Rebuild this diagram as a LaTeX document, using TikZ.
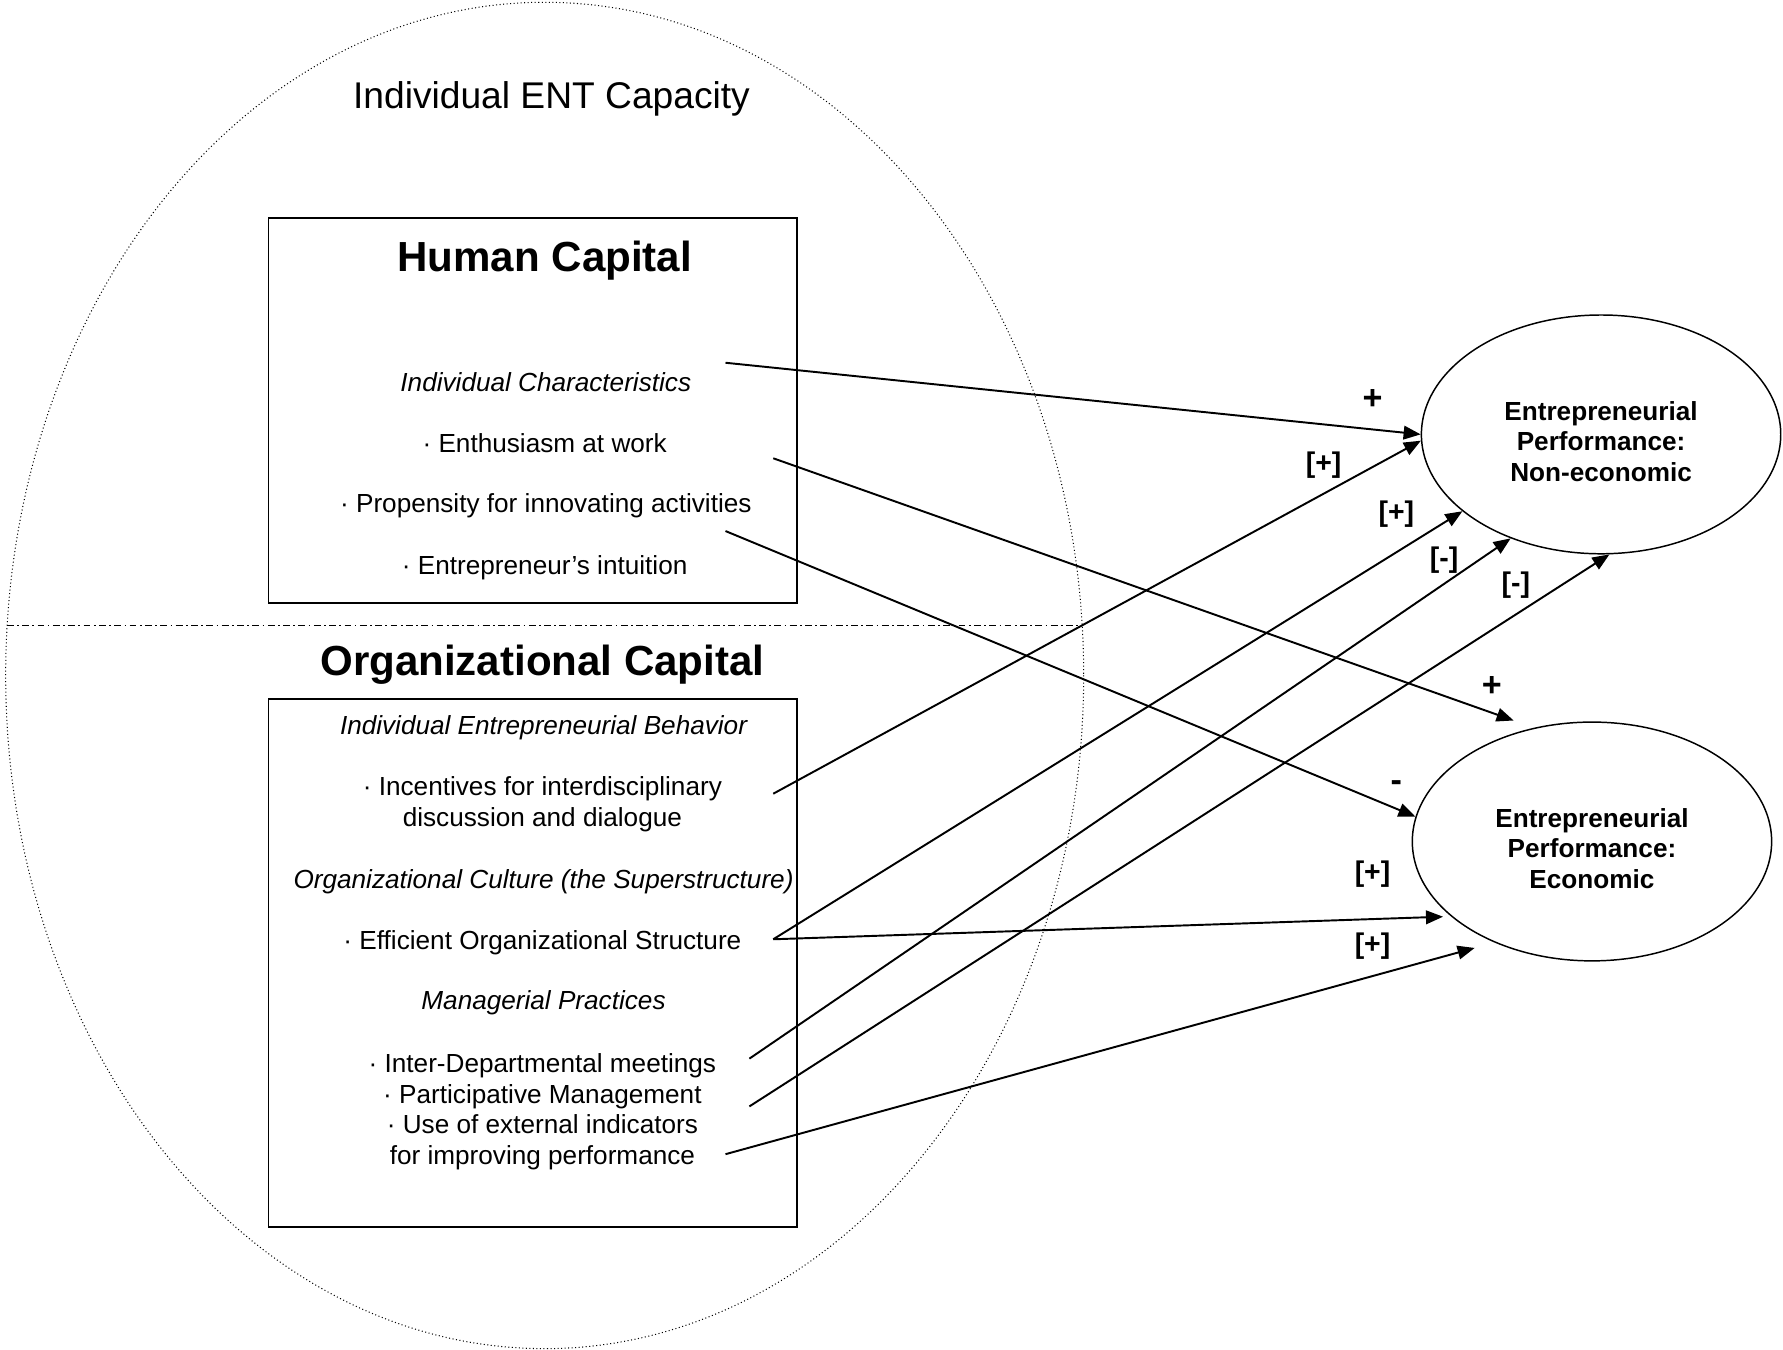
\documentclass[tikz,border=0pt]{standalone}
\usepackage{fontspec}
\setmainfont{Liberation Sans}
\usetikzlibrary{arrows.meta,shapes.geometric}

\tikzset{
  item/.style={font=\fontsize{23}{27}\selectfont, anchor=base, inner sep=0pt},
  head/.style={font=\fontsize{37}{40}\selectfont\bfseries, anchor=base, inner sep=0pt},
  perf/.style={draw, ellipse, line width=1.3pt, minimum width=316pt, minimum height=210pt,
    inner sep=0pt, align=center, font=\fontsize{23}{27}\selectfont\bfseries},
  link/.style={line width=1.7pt, -{Triangle[length=15pt,width=12pt]}},
  sign/.style={font=\fontsize{30}{30}\selectfont\bfseries, inner sep=0pt},
  bsign/.style={font=\fontsize{25}{25}\selectfont\bfseries, inner sep=0pt},
}

\begin{document}
\begin{tikzpicture}[x=1pt,y=-1pt]
    \useasboundingbox (0,0) rectangle (1568,1187);
    \draw[line width=0.9pt, dash pattern=on 0.9pt off 2.2pt] (479,594) ellipse [x radius=474, y radius=592];
    \draw[line width=1pt, dash pattern=on 6pt off 3pt on 1.5pt off 3pt] (6,550) -- (952,550);
    \draw[line width=1.5pt] (236,192) rectangle (701,530);
    \draw[line width=1.5pt] (236,615) rectangle (701,1079);

    \node (cap) at (485,95) [anchor=base, inner sep=0pt, font=\fontsize{32.7}{36}\selectfont] {Individual ENT Capacity};

    \node (hc) at (479,239) [head] {Human Capital};
    \node (ich) at (480,344) [item, font=\fontsize{23}{27}\selectfont\itshape] {Individual Characteristics};
    \node (ent) at (479,398) [item] {· Enthusiasm at work};
    \node (pro) at (480,451) [item] {· Propensity for innovating activities};
    \node (itu) at (479,505) [item] {· Entrepreneur’s intuition};

    \node (oc) at (477,594) [head] {Organizational Capital};
    \node (ieb) at (478,646) [item, font=\fontsize{23}{27}\selectfont\itshape] {Individual Entrepreneurial Behavior};
    \node (inc) at (477,700) [item] {· Incentives for interdisciplinary};
    \node (dia) at (477,727) [item] {discussion and dialogue};
    \node (cul) at (478,781) [item, font=\fontsize{23}{27}\selectfont\itshape] {Organizational Culture (the Superstructure)};
    \node (eos) at (477,835) [item] {· Efficient Organizational Structure};
    \node (mp) at (478,888) [item, font=\fontsize{23}{27}\selectfont\itshape] {Managerial Practices};
    \node (idm) at (477,943) [item] {· Inter-Departmental meetings};
    \node (pm) at (477,970) [item] {· Participative Management};
    \node (ext) at (477,997) [item] {· Use of external indicators};
    \node (imp) at (477,1024) [item] {for improving performance};

    \node (ne) at (1408,382) [perf] {\rule{0pt}{29pt}Entrepreneurial\\Performance:\\Non-economic};
    \node (ec) at (1400,740) [perf] {\rule{0pt}{29pt}Entrepreneurial\\Performance:\\Economic};

    \coordinate (ich-o) at (638,319);
    \coordinate (ent-o) at (680,403);
    \coordinate (pro-o) at (638,467);
    \coordinate (inc-o) at (680,698);
    \coordinate (eos-o) at (680,826);
    \coordinate (idm-o) at (659,931);
    \coordinate (pm-o) at (659,973);
    \coordinate (ext-o) at (638,1015);

    \draw[link] (ich-o) -- (ne.180);
    \draw[link, shorten >=19pt] (ent-o) -- (ec.117);
    \draw[link] (pro-o) -- (ec.172);
    \draw[link] (inc-o) -- (ne.182);
    \draw[link] (eos-o) -- (ne.209);
    \draw[link, shorten >=7pt] (eos-o) -- (ec.208);
    \draw[link] (idm-o) -- (ne.229);
    \draw[link] (pm-o) -- (ne.274);
    \draw[link, shorten >=18pt] (ext-o) -- (ec.226);

    \node (p1) at (1207,351) [sign] {+};
    \node (p2) at (1164,409) [bsign] {[+]};
    \node (p3) at (1228,452) [bsign] {[+]};
    \node (m1) at (1270,493) [bsign] {[-]};
    \node (m2) at (1333,515) [bsign] {[-]};
    \node (p4) at (1312,604) [sign] {+};
    \node (m3) at (1228,691) [sign] {-};
    \node (p5) at (1207,769) [bsign] {[+]};
    \node (p6) at (1207,832) [bsign] {[+]};
\end{tikzpicture}
\end{document}
